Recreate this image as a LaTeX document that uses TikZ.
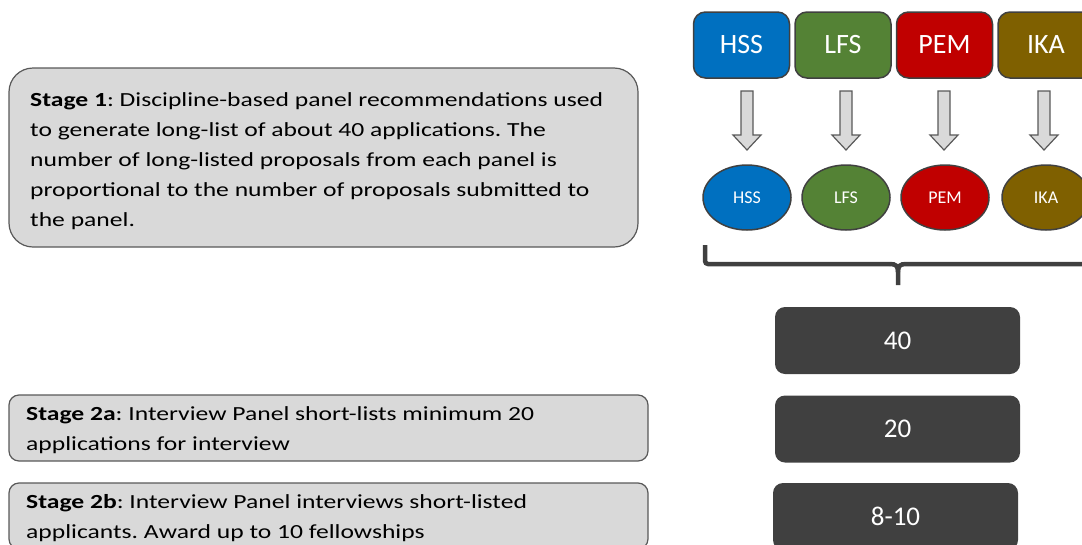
\documentclass[tikz,border=0pt]{standalone}
\usepackage{fontspec}
\setmainfont{Carlito}
\newfontfamily\stagefont[FakeStretch=1.28]{Carlito}
\usetikzlibrary{shapes.geometric}
\definecolor{cHSS}{HTML}{0070C0}
\definecolor{cLFS}{HTML}{548235}
\definecolor{cPEM}{HTML}{C00000}
\definecolor{cIKA}{HTML}{7F6000}
\definecolor{boxfill}{HTML}{D9D9D9}
\definecolor{boxline}{HTML}{595959}
\definecolor{panelline}{HTML}{404040}
\definecolor{countfill}{HTML}{404040}
\frenchspacing
\begin{document}
\begin{tikzpicture}[x=1pt,y=-1pt,
  stagebox/.style={draw=boxline, fill=boxfill, line width=1.2pt, inner sep=0pt},
  stagetext/.style={align=left, inner sep=0pt, anchor=base west, font=\stagefont\fontsize{20}{30}\selectfont},
  panelbox/.style={draw=panelline, line width=1.5pt, rounded corners=12pt, minimum width=96pt, minimum height=66pt, inner sep=0pt, text=white, font=\fontsize{28}{30}\selectfont},
  panelell/.style={ellipse, draw=panelline, line width=1.5pt, minimum width=88pt, minimum height=65pt, inner sep=0pt, text=white, font=\fontsize{18}{20}\selectfont},
  arrowsty/.style={draw=boxline, fill=boxfill, line width=1.2pt, line join=miter},
  countbox/.style={fill=countfill, rounded corners=10pt, minimum width=245pt, minimum height=67pt, inner sep=0pt, text=white, font=\fontsize{27}{30}\selectfont},
  bracestyle/.style={draw=panelline, line width=4.5pt}
]
\useasboundingbox (0,0) rectangle (1082,544);
\clip (0,0) rectangle (1082,544);

% stage boxes (text nodes are anchored at the baseline of their last line)
\node[stagebox, rounded corners=24pt, minimum width=629pt, minimum height=179pt] (s1) at (323.5,157.5) {};
\node[stagetext] (s1t) at (30,226)
  {\textbf{Stage 1}: Discipline-based panel recommendations used\\
   to generate long-list of about 40 applications. The\\
   number of long-listed proposals from each panel is\\
   proportional to the number of proposals submitted to\\
   the panel.};
\node[stagebox, rounded corners=10pt, minimum width=639pt, minimum height=66pt] (s2a) at (328.5,428) {};
\node[stagetext] (s2at) at (26,450)
  {\textbf{Stage 2a}: Interview Panel short-lists minimum 20\\
   applications for interview};
\node[stagebox, rounded corners=10pt, minimum width=639pt, minimum height=66pt] (s2b) at (328.5,516) {};
\node[stagetext] (s2bt) at (26,538)
  {\textbf{Stage 2b}: Interview Panel interviews short-listed\\
   applicants. Award up to 10 fellowships};

% panel boxes
\node[panelbox, fill=cHSS] (b1) at (741.5,45) {HSS};
\node[panelbox, fill=cLFS] (b2) at (843,45) {LFS};
\node[panelbox, fill=cPEM] (b3) at (944.5,45) {PEM};
\node[panelbox, fill=cIKA] (b4) at (1046,45) {IKA};

% ellipses
\node[panelell, fill=cHSS] (e1) at (747,197.5) {HSS};
\node[panelell, fill=cLFS] (e2) at (846,197.5) {LFS};
\node[panelell, fill=cPEM] (e3) at (945,197.5) {PEM};
\node[panelell, fill=cIKA] (e4) at (1046,197.5) {IKA};

% block arrows (top centre of each arrow)
\coordinate (a1) at (747,91);
\coordinate (a2) at (846,91);
\coordinate (a3) at (944,91);
\coordinate (a4) at (1044,91);
\foreach \a in {a1,a2,a3,a4}{
  \draw[arrowsty] ([xshift=-6pt]\a) -- ++(0,44) -- ++(-8,0) -- ++(14,15) -- ++(14,-15) -- ++(-8,0) -- ++(0,-44) -- cycle;
}

% brace
\coordinate (bl) at (705,245);
\coordinate (bt) at (898,285);
\coordinate (br) at (1095,264);
\draw[bracestyle, rounded corners=3pt] (bl) -- (705,264) -- (890,264);
\draw[bracestyle] (890,264) .. controls (896,264) and (898,266) .. (898,272) -- (bt);
\draw[bracestyle] (898,272) .. controls (898,266) and (900,264) .. (906,264) -- (br);

% counts
\node[countbox] (c40) at (897.5,340.5) {40};
\node[countbox] (c20) at (897.5,429) {20};
\node[countbox] (c10) at (895.5,516.5) {8-10};
\end{tikzpicture}
\end{document}
